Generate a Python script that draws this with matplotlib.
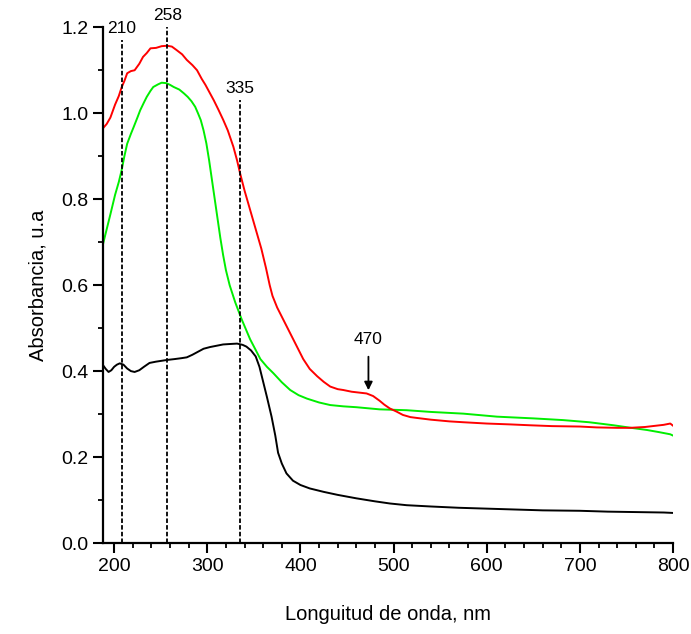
import numpy as np
import matplotlib
matplotlib.use('Agg')
from matplotlib import pyplot as plt
from matplotlib.ticker import MultipleLocator

plt.rcParams['font.family'] = ['Liberation Sans Narrow', 'Liberation Sans', 'DejaVu Sans']

# red curve
red_x = [188, 192, 196, 201, 205, 208, 211, 214, 218, 222, 227, 231, 235, 239, 245, 251, 257,
         262, 267, 273, 278, 284, 289, 294, 298, 302, 307, 312, 317, 322, 328, 332, 335, 340,
         346, 352, 358, 363, 367, 370, 375, 382, 389, 396, 403, 410, 418, 425, 432, 440, 446,
         455, 463, 471, 478, 485, 490, 496, 503, 510, 518, 525, 540, 560, 575, 600, 625, 646,
         670, 700, 718, 740, 754, 770, 782, 790, 797, 800]
red_y = [0.965, 0.975, 0.99, 1.02, 1.04, 1.06, 1.075, 1.093, 1.098, 1.10, 1.115, 1.131, 1.14, 1.151,
         1.152, 1.156, 1.157, 1.155, 1.147, 1.137, 1.124, 1.112, 1.10, 1.08, 1.066, 1.05, 1.03,
         1.008, 0.985, 0.96, 0.922, 0.89, 0.862, 0.82, 0.775, 0.73, 0.685, 0.64, 0.60, 0.575, 0.548,
         0.518, 0.488, 0.458, 0.428, 0.405, 0.388, 0.375, 0.364, 0.358, 0.356, 0.352, 0.35, 0.348,
         0.342, 0.331, 0.322, 0.313, 0.306, 0.298, 0.293, 0.291, 0.287, 0.283, 0.281, 0.278, 0.276,
         0.274, 0.272, 0.271, 0.269, 0.268, 0.268, 0.27, 0.273, 0.275, 0.278, 0.273]

# green curve
green_x = [188, 192, 196, 201, 205, 208, 211, 214, 218, 221, 225, 228, 232, 235, 239, 242, 247,
           251, 256, 260, 264, 270, 275, 279, 283, 287, 290, 293, 296, 299, 302, 305, 308, 311,
           314, 317, 320, 324, 330, 337, 346, 352, 357, 364, 371, 380, 389, 398, 407, 420, 432,
           446, 460, 485, 514, 540, 575, 611, 650, 682, 710, 736, 755, 772, 785, 797, 800]
green_y = [0.695, 0.73, 0.765, 0.81, 0.84, 0.867, 0.9, 0.929, 0.952, 0.968, 0.99, 1.007, 1.025,
           1.038, 1.052, 1.061, 1.067, 1.071, 1.07, 1.066, 1.061, 1.055, 1.046, 1.038, 1.028,
           1.015, 1.0, 0.984, 0.96, 0.93, 0.89, 0.845, 0.80, 0.755, 0.71, 0.67, 0.635, 0.60, 0.56,
           0.52, 0.474, 0.449, 0.428, 0.41, 0.395, 0.374, 0.356, 0.344, 0.336, 0.327, 0.321, 0.318,
           0.316, 0.311, 0.309, 0.305, 0.301, 0.294, 0.29, 0.286, 0.281, 0.274, 0.268, 0.263,
           0.258, 0.253, 0.25]

# black curve
black_x = [188, 191, 194, 197, 200, 203, 206, 210, 214, 218, 222, 227, 232, 238, 245, 251, 257,
           265, 272, 278, 284, 290, 296, 303, 310, 317, 324, 332, 338, 342, 347, 352, 356, 360,
           364, 369, 373, 376, 380, 385, 392, 400, 410, 425, 440, 460, 480, 496, 514, 540, 570,
           600, 630, 660, 700, 730, 760, 790, 800]
black_y = [0.414, 0.405, 0.398, 0.402, 0.41, 0.415, 0.418, 0.415, 0.406, 0.40, 0.398, 0.402, 0.41,
           0.419, 0.422, 0.424, 0.426, 0.428, 0.43, 0.432, 0.438, 0.445, 0.452, 0.456, 0.459,
           0.462, 0.463, 0.464, 0.461, 0.457, 0.448, 0.434, 0.41, 0.375, 0.34, 0.294, 0.25, 0.21,
           0.185, 0.162, 0.145, 0.135, 0.127, 0.119, 0.112, 0.104, 0.097, 0.092, 0.088, 0.085,
           0.082, 0.08, 0.078, 0.076, 0.075, 0.073, 0.072, 0.071, 0.07]

# vertical markers: position, top of line, label
mark_x = [208, 257, 335]
mark_top = [1.17, 1.2, 1.03]
mark_lbl = ['210', '258', '335']

fig = plt.figure(figsize=(6.91, 6.34), dpi=100)
ax = fig.add_axes([0.149, 0.1435, 0.825, 0.8135])

ax.plot(black_x, black_y, color='black', lw=1.4)
ax.plot(green_x, green_y, color='#00ee00', lw=1.4)
ax.plot(red_x, red_y, color='red', lw=1.4)

for x, top, lbl in zip(mark_x, mark_top, mark_lbl):
    ax.plot([x, x], [0, top], color='black', lw=1.3, ls=(0, (2.5, 1.2)))
    ax.text(x, top + 0.01, lbl, ha='center', va='bottom', fontsize=12.5, clip_on=False)

ax.annotate('', xy=(473, 0.349), xytext=(473, 0.44),
            arrowprops=dict(arrowstyle='-|>', color='black', lw=1.3, mutation_scale=12))
ax.text(473, 0.455, '470', ha='center', va='bottom', fontsize=12.5)

ax.set_xlim(188, 800)
ax.set_ylim(0, 1.2)
ax.xaxis.set_major_locator(MultipleLocator(100))
ax.xaxis.set_minor_locator(MultipleLocator(20))
ax.yaxis.set_major_locator(MultipleLocator(0.2))
ax.yaxis.set_minor_locator(MultipleLocator(0.1))
ax.yaxis.set_major_formatter(plt.FormatStrFormatter('%.1f'))
ax.tick_params(which='major', direction='out', length=7, width=1.5, labelsize=14)
ax.tick_params(which='minor', direction='out', length=3.5, width=1.3)
for s in ['top', 'right']:
    ax.spines[s].set_visible(False)
for s in ['left', 'bottom']:
    ax.spines[s].set_linewidth(1.6)

ax.set_xlabel('Longuitud de onda, nm', fontsize=14.5, labelpad=22)
ax.set_ylabel('Absorbancia, u.a', fontsize=14.5, labelpad=10)

fig.savefig('out.png', dpi=100)
